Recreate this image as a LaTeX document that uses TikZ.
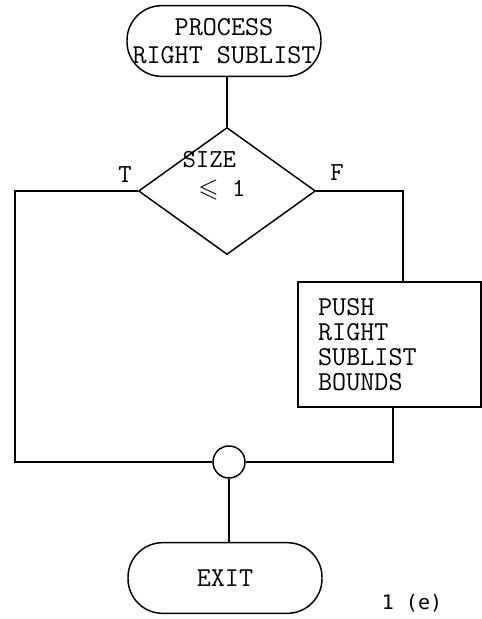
\documentclass[tikz,border=0pt]{standalone}
\usepackage{fontspec}
\usepackage{amssymb}
\usepackage{tikz}
\usetikzlibrary{positioning,shapes.geometric}
\newfontfamily\fignofont{DejaVu Sans Mono}

\tikzset{
  terminal/.style={draw, rectangle, rounded corners=26pt, minimum width=145.5pt,
    minimum height=53pt, inner sep=0pt, align=center,
    font=\ttfamily\fontsize{20.5}{21}\selectfont},
  decision/.style={draw, diamond, minimum width=132.75pt, minimum height=95.25pt, inner sep=0pt},
  stepbox/.style={draw, rectangle, text width=107pt, inner xsep=15pt, minimum height=94pt,
    align=left, font=\ttfamily\fontsize{20.5}{18.75}\selectfont},
  joint/.style={draw, circle, minimum size=24pt, inner sep=0pt},
  branch/.style={font=\ttfamily\fontsize{19.5}{21.5}\selectfont, inner sep=0pt}
}

\begin{document}
\begin{tikzpicture}[x=0.75pt, y=-0.75pt, line width=1.1pt]
    \useasboundingbox (0,0) rectangle (482,619);

    % flowchart nodes
    \node[terminal] (start) at (224,41) {PROCESS\\RIGHT SUBLIST};
    \node[decision] (test) at (227,191) {};
    \node[branch, align=left] (sizetxt) at (214,176) {SIZE\\\hspace*{12pt}$\leqslant$ 1};
    \node[stepbox] (push) at (389.5,344.5) {PUSH\\RIGHT\\SUBLIST\\BOUNDS};
    \node[joint] (join) at (229,462) {};
    \node[terminal] (exit) at (225,578) {EXIT};

    % branch labels and figure number
    \node[branch] (tlabel) at (125,175) {T};
    \node[branch] (flabel) at (337,173) {F};
    \node[font=\fignofont\fontsize{15}{18}\selectfont, inner sep=0pt] (figno) at (412,603) {1 (e)};

    \coordinate (lcorner) at (15,462);

    % connectors
    \draw (test.north) -- (test.north |- start.south);
    \draw (test.east) -| ([xshift=10pt]push.north);
    \draw (test.west) -| (lcorner) -- (join.west);
    \draw ([xshift=2.6pt]push.south) |- (join.east);
    \draw (join.south) -- (join.south |- exit.north);
\end{tikzpicture}
\end{document}
